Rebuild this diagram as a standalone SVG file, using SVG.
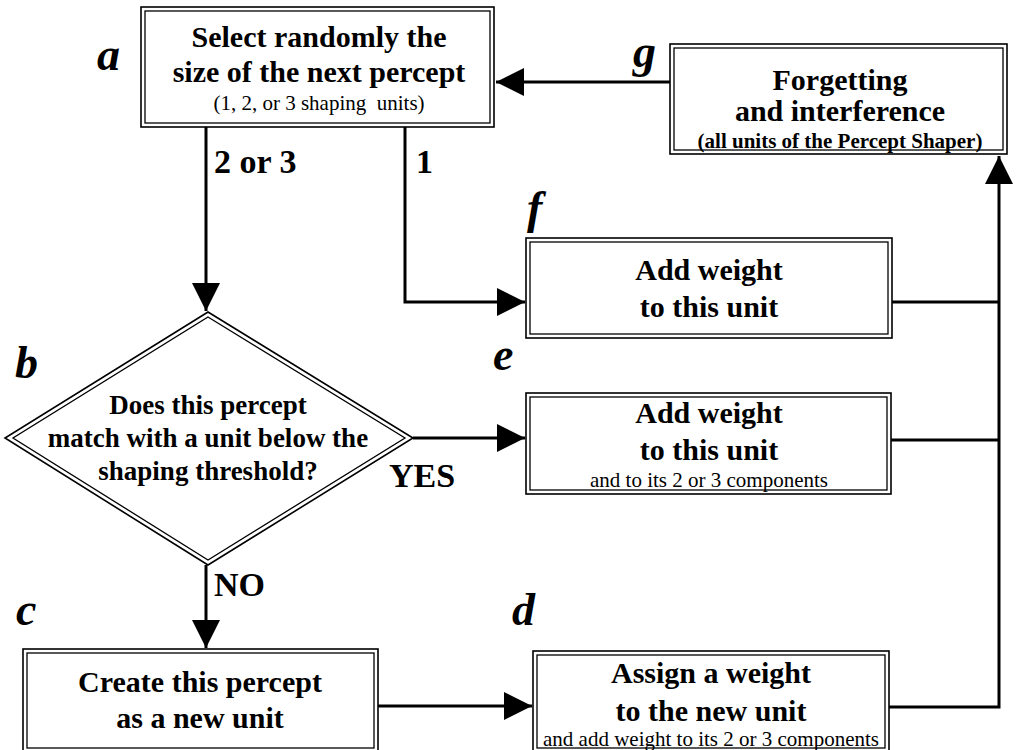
<svg xmlns="http://www.w3.org/2000/svg" width="1016" height="750" viewBox="0 0 1016 750">
<style>
.box{fill:#fff;stroke:#000;stroke-width:1.6}
.inner{fill:none;stroke:#000;stroke-width:1.3}
.t{font-family:"Liberation Serif","Times New Roman",serif;font-weight:bold;font-size:30px;text-anchor:middle;fill:#000}
.d{font-size:27px}
.s{font-family:"Liberation Serif","Times New Roman",serif;font-size:21px;text-anchor:middle;fill:#000}
.sb{font-weight:bold;font-size:21px}
.lab{font-family:"Liberation Serif","Times New Roman",serif;font-weight:bold;font-style:italic;font-size:46px;fill:#000}
.cl{font-family:"Liberation Serif","Times New Roman",serif;font-weight:bold;font-size:34px;fill:#000}
.c{fill:none;stroke:#000;stroke-width:3}
</style>
<defs>
<marker id="ah" markerUnits="userSpaceOnUse" markerWidth="28" markerHeight="28" refX="28" refY="14" orient="auto">
<path d="M0,0 L28,14 L0,28 z" fill="#000"/>
</marker>
</defs>
<rect width="1016" height="750" fill="#fff"/>
<g id="connectors">
<path class="c" d="M670,82 H496" marker-end="url(#ah)"/>
<path class="c" d="M206,127 V311" marker-end="url(#ah)"/>
<path class="c" d="M405,127 V302 H525" marker-end="url(#ah)"/>
<path class="c" d="M413,438 H525" marker-end="url(#ah)"/>
<path class="c" d="M206,565 V648" marker-end="url(#ah)"/>
<path class="c" d="M378,706 H532" marker-end="url(#ah)"/>
<path class="c" d="M889,707 H999 V156" marker-end="url(#ah)"/>
<path class="c" d="M892,302 H999"/>
<path class="c" d="M891,440 H999"/>
</g>
<g id="node-a">
<rect class="box" x="141" y="7" width="353" height="120"/>
<rect class="inner" x="145" y="11" width="345" height="112"/>
<text class="t" x="319" y="47">Select randomly the</text>
<text class="t" x="319" y="82">size of the next percept</text>
<text class="s" x="319" y="110" xml:space="preserve">(1, 2, or 3 shaping  units)</text>
<text class="lab" x="97" y="70">a</text>
</g>
<g id="node-g">
<rect class="box" x="670" y="44" width="337" height="110"/>
<rect class="inner" x="674" y="48" width="329" height="102"/>
<text class="t" x="840" y="90">Forgetting</text>
<text class="t" x="840" y="121">and interference</text>
<text class="s sb" x="840" y="148">(all units of the Percept Shaper)</text>
<text class="lab" x="633" y="67">g</text>
</g>
<g id="node-f">
<rect class="box" x="526" y="238" width="366" height="100"/>
<rect class="inner" x="530" y="242" width="358" height="92"/>
<text class="t" x="709" y="280">Add weight</text>
<text class="t" x="709" y="317">to this unit</text>
<text class="lab" x="527" y="223">f</text>
</g>
<g id="node-b">
<polygon class="box" points="208,312 413,438 208,565 5,438"/>
<polygon class="inner" points="208,317 405,438 208,560 13,438"/>
<text class="t d" x="208" y="414">Does this percept</text>
<text class="t d" x="208" y="447">match with a unit below the</text>
<text class="t d" x="208" y="480">shaping threshold?</text>
<text class="lab" x="15" y="378">b</text>
</g>
<g id="node-e">
<rect class="box" x="526" y="393" width="365" height="101"/>
<rect class="inner" x="530" y="397" width="357" height="93"/>
<text class="t" x="709" y="423">Add weight</text>
<text class="t" x="709" y="460">to this unit</text>
<text class="s" x="709" y="487">and to its 2 or 3 components</text>
<text class="lab" x="493" y="370">e</text>
</g>
<g id="node-c">
<rect class="box" x="23" y="649" width="355" height="103"/>
<rect class="inner" x="27" y="653" width="347" height="95"/>
<text class="t" x="200" y="692">Create this percept</text>
<text class="t" x="200" y="728">as a new unit</text>
<text class="lab" x="16" y="625">c</text>
</g>
<g id="node-d">
<rect class="box" x="533" y="651" width="356" height="101"/>
<rect class="inner" x="537" y="655" width="348" height="93"/>
<text class="t" x="711" y="683">Assign a weight</text>
<text class="t" x="711" y="721">to the new unit</text>
<text class="s" x="711" y="746">and add weight to its 2 or 3 components</text>
<text class="lab" x="512" y="625">d</text>
</g>
<g id="branch-labels">
<text class="cl" x="214" y="173">2 or 3</text>
<text class="cl" x="416" y="173">1</text>
<text class="cl" x="389" y="487">YES</text>
<text class="cl" x="214" y="596">NO</text>
</g>
</svg>
